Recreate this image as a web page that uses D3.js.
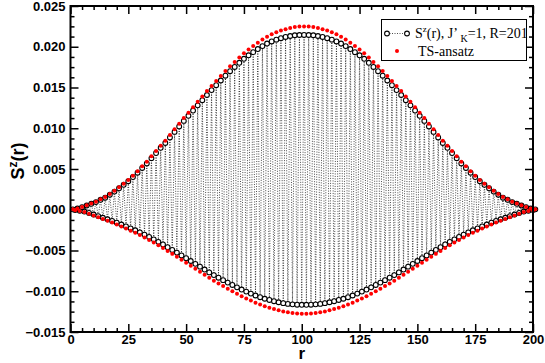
<!DOCTYPE html>
<html>
<head>
<meta charset="utf-8">
<script src="https://cdn.jsdelivr.net/npm/d3@7"></script>
<style>
  body { margin: 0; background: #fff; }
  svg { display: block; }
</style>
</head>
<body>
<div id="chart"></div>
<script>
// S^z(r) on odd sites r = 1, 3, ..., 201 (upper envelope)
const blackOdd = [
  0.00005, 0.00015, 0.00031, 0.00052, 0.00073, 0.00094, 0.00122, 0.00148, 0.00184, 0.00223,
  0.00263, 0.00306, 0.00350, 0.00401, 0.00454, 0.00513, 0.00568, 0.00633, 0.00696, 0.00760,
  0.00819, 0.00887, 0.00955, 0.01022, 0.01090, 0.01153, 0.01217, 0.01281, 0.01345, 0.01408,
  0.01468, 0.01528, 0.01586, 0.01645, 0.01700, 0.01752, 0.01803, 0.01852, 0.01895, 0.01934,
  0.01972, 0.02008, 0.02039, 0.02065, 0.02087, 0.02105, 0.02120, 0.02132, 0.02141, 0.02144,
  0.02145,
  0.02144, 0.02141, 0.02132, 0.02120, 0.02105, 0.02087, 0.02065, 0.02039, 0.02008, 0.01972,
  0.01934, 0.01895, 0.01852, 0.01803, 0.01752, 0.01700, 0.01645, 0.01586, 0.01528, 0.01468,
  0.01408, 0.01345, 0.01281, 0.01217, 0.01153, 0.01090, 0.01022, 0.00955, 0.00887, 0.00819,
  0.00760, 0.00696, 0.00633, 0.00568, 0.00513, 0.00454, 0.00401, 0.00350, 0.00306, 0.00263,
  0.00223, 0.00184, 0.00148, 0.00122, 0.00094, 0.00073, 0.00052, 0.00031, 0.00015, 0.00005
];

// S^z(r) on even sites r = 2, 4, ..., 200 (lower envelope)
const blackEven = [
  -0.00003, -0.00012, -0.00022, -0.00039, -0.00059, -0.00078, -0.00098, -0.00117, -0.00137, -0.00158,
  -0.00181, -0.00205, -0.00228, -0.00252, -0.00277, -0.00305, -0.00334, -0.00363, -0.00394, -0.00426,
  -0.00459, -0.00493, -0.00526, -0.00560, -0.00594, -0.00629, -0.00664, -0.00698, -0.00734, -0.00769,
  -0.00802, -0.00834, -0.00864, -0.00894, -0.00923, -0.00952, -0.00979, -0.01004, -0.01029, -0.01052,
  -0.01073, -0.01092, -0.01107, -0.01122, -0.01135, -0.01146, -0.01155, -0.01161, -0.01165, -0.01166,
  -0.01166, -0.01165, -0.01161, -0.01155, -0.01146, -0.01135, -0.01122, -0.01107, -0.01092, -0.01073,
  -0.01052, -0.01029, -0.01004, -0.00979, -0.00952, -0.00923, -0.00894, -0.00864, -0.00834, -0.00802,
  -0.00769, -0.00734, -0.00698, -0.00664, -0.00629, -0.00594, -0.00560, -0.00526, -0.00493, -0.00459,
  -0.00426, -0.00394, -0.00363, -0.00334, -0.00305, -0.00277, -0.00252, -0.00228, -0.00205, -0.00181,
  -0.00158, -0.00137, -0.00117, -0.00098, -0.00078, -0.00059, -0.00039, -0.00022, -0.00012, -0.00003
];

// TS-ansatz, odd sites
const redOdd = [
  0.00005, 0.00016, 0.00033, 0.00055, 0.00077, 0.00099, 0.00128, 0.00156, 0.00193, 0.00234,
  0.00275, 0.00320, 0.00365, 0.00418, 0.00472, 0.00533, 0.00590, 0.00656, 0.00721, 0.00786,
  0.00847, 0.00917, 0.00987, 0.01056, 0.01126, 0.01191, 0.01257, 0.01324, 0.01390, 0.01456,
  0.01518, 0.01580, 0.01641, 0.01702, 0.01760, 0.01814, 0.01868, 0.01920, 0.01966, 0.02009,
  0.02050, 0.02089, 0.02123, 0.02152, 0.02177, 0.02198, 0.02216, 0.02230, 0.02241, 0.02247,
  0.02250,
  0.02247, 0.02241, 0.02230, 0.02216, 0.02198, 0.02177, 0.02152, 0.02123, 0.02089, 0.02050,
  0.02009, 0.01966, 0.01920, 0.01868, 0.01814, 0.01760, 0.01702, 0.01641, 0.01580, 0.01518,
  0.01456, 0.01390, 0.01324, 0.01257, 0.01191, 0.01126, 0.01056, 0.00987, 0.00917, 0.00847,
  0.00786, 0.00721, 0.00656, 0.00590, 0.00533, 0.00472, 0.00418, 0.00365, 0.00320, 0.00275,
  0.00234, 0.00193, 0.00156, 0.00128, 0.00099, 0.00077, 0.00055, 0.00033, 0.00016, 0.00005
];

// TS-ansatz, even sites
const redEven = [
  -0.00005, -0.00016, -0.00029, -0.00048, -0.00070, -0.00091, -0.00113, -0.00135, -0.00157, -0.00180,
  -0.00205, -0.00231, -0.00257, -0.00283, -0.00310, -0.00340, -0.00371, -0.00403, -0.00436, -0.00470,
  -0.00505, -0.00541, -0.00577, -0.00613, -0.00649, -0.00686, -0.00723, -0.00760, -0.00798, -0.00835,
  -0.00870, -0.00904, -0.00937, -0.00969, -0.01000, -0.01031, -0.01060, -0.01088, -0.01115, -0.01140,
  -0.01163, -0.01184, -0.01202, -0.01219, -0.01234, -0.01247, -0.01258, -0.01267, -0.01273, -0.01276,
  -0.01276, -0.01273, -0.01267, -0.01258, -0.01247, -0.01234, -0.01219, -0.01202, -0.01184, -0.01163,
  -0.01140, -0.01115, -0.01088, -0.01060, -0.01031, -0.01000, -0.00969, -0.00937, -0.00904, -0.00870,
  -0.00835, -0.00798, -0.00760, -0.00723, -0.00686, -0.00649, -0.00613, -0.00577, -0.00541, -0.00505,
  -0.00470, -0.00436, -0.00403, -0.00371, -0.00340, -0.00310, -0.00283, -0.00257, -0.00231, -0.00205,
  -0.00180, -0.00157, -0.00135, -0.00113, -0.00091, -0.00070, -0.00048, -0.00029, -0.00016, -0.00005
];

const xTicks = [0, 25, 50, 75, 100, 125, 150, 175, 200];
const yTicks = [-0.015, -0.010, -0.005, 0.000, 0.005, 0.010, 0.015, 0.020, 0.025];

// merge odd and even sites into one r-ordered series
function toSeries(odd, even) {
  const pts = [];
  odd.forEach((v, i) => pts.push({ r: 2 * i + 1, v: v }));
  even.forEach((v, i) => pts.push({ r: 2 * i + 2, v: v }));
  return pts.sort((a, b) => a.r - b.r);
}

const blackData = toSeries(blackOdd, blackEven);
const redData = toSeries(redOdd, redEven);

const W = 545, H = 363;
const margin = { top: 6, right: 12, bottom: 31, left: 70.5 };
const width = W - margin.left - margin.right;
const height = H - margin.top - margin.bottom;

const svg = d3.select('#chart')
  .append('svg')
  .attr('width', W)
  .attr('height', H);

const g = svg.append('g')
  .attr('transform', `translate(${margin.left},${margin.top})`);

const x = d3.scaleLinear().domain([0, 200]).range([0, width]);
const y = d3.scaleLinear().domain([-0.015, 0.025]).range([height, 0]);

const xMinor = d3.range(0, 201, 5).filter(d => d % 25 !== 0);
const yMinor = d3.range(-0.015, 0.0251, 0.00125).filter(d => Math.abs(Math.round(d / 0.005) * 0.005 - d) > 1e-6);

const tickFont = '"Liberation Sans", Arial, sans-serif';

// axes: major ticks inward, minor ticks shorter, mirrored on top/right
function styleAxis(sel) {
  sel.select('.domain').remove();
  sel.selectAll('line').attr('stroke', '#000').attr('stroke-width', 1.5);
  sel.selectAll('text')
    .attr('font-family', tickFont)
    .attr('font-weight', 'bold')
    .attr('font-size', '13px')
    .attr('fill', '#000');
}

g.append('g')
  .attr('transform', `translate(0,${height})`)
  .call(d3.axisBottom(x).tickValues(xTicks).tickSizeInner(-8).tickSizeOuter(0).tickPadding(3))
  .call(styleAxis);
g.append('g')
  .attr('transform', `translate(0,${height})`)
  .call(d3.axisBottom(x).tickValues(xMinor).tickSizeInner(-4).tickSizeOuter(0).tickFormat(''))
  .call(styleAxis);
g.append('g')
  .call(d3.axisTop(x).tickValues(xTicks).tickSizeInner(-8).tickSizeOuter(0).tickFormat(''))
  .call(styleAxis);
g.append('g')
  .call(d3.axisTop(x).tickValues(xMinor).tickSizeInner(-4).tickSizeOuter(0).tickFormat(''))
  .call(styleAxis);

g.append('g')
  .call(d3.axisLeft(y).tickValues(yTicks).tickSizeInner(-8).tickSizeOuter(0).tickPadding(5).tickFormat(d3.format('.3f')))
  .call(styleAxis);
g.append('g')
  .call(d3.axisLeft(y).tickValues(yMinor).tickSizeInner(-4).tickSizeOuter(0).tickFormat(''))
  .call(styleAxis);
g.append('g')
  .attr('transform', `translate(${width},0)`)
  .call(d3.axisRight(y).tickValues(yTicks).tickSizeInner(-8).tickSizeOuter(0).tickFormat(''))
  .call(styleAxis);
g.append('g')
  .attr('transform', `translate(${width},0)`)
  .call(d3.axisRight(y).tickValues(yMinor).tickSizeInner(-4).tickSizeOuter(0).tickFormat(''))
  .call(styleAxis);

// dotted connecting line of the S^z(r) series
const line = d3.line().x(d => x(d.r)).y(d => y(d.v));
g.append('path')
  .datum(blackData)
  .attr('d', line)
  .attr('fill', 'none')
  .attr('stroke', '#000')
  .attr('stroke-width', 0.7)
  .attr('stroke-dasharray', '1,1.5');

// open circles
g.selectAll('.sz')
  .data(blackData)
  .enter()
  .append('circle')
  .attr('class', 'sz')
  .attr('cx', d => x(d.r))
  .attr('cy', d => y(d.v))
  .attr('r', 2.4)
  .attr('fill', '#fff')
  .attr('stroke', '#000')
  .attr('stroke-width', 1.1);

// TS-ansatz red dots
g.selectAll('.ts')
  .data(redData)
  .enter()
  .append('circle')
  .attr('class', 'ts')
  .attr('cx', d => x(d.r))
  .attr('cy', d => y(d.v))
  .attr('r', 2)
  .attr('fill', '#ff0000');

// frame
g.append('rect')
  .attr('x', 0)
  .attr('y', 0)
  .attr('width', width)
  .attr('height', height)
  .attr('fill', 'none')
  .attr('stroke', '#000')
  .attr('stroke-width', 2);

// axis titles
svg.append('text')
  .attr('x', margin.left + x(100))
  .attr('y', 359)
  .attr('text-anchor', 'middle')
  .attr('font-family', tickFont)
  .attr('font-weight', 'bold')
  .attr('font-size', '17px')
  .text('r');

const yTitle = svg.append('text')
  .attr('transform', `translate(24,161) rotate(-90)`)
  .attr('text-anchor', 'middle')
  .attr('font-family', tickFont)
  .attr('font-weight', 'bold')
  .attr('font-size', '18px');
yTitle.append('tspan').text('S');
yTitle.append('tspan').attr('dy', -7).attr('font-size', '12px').text('z');
yTitle.append('tspan').attr('dy', 7).text('(r)');

// legend
const legendFont = '"Liberation Serif", "Times New Roman", serif';
const lg = svg.append('g');
lg.append('rect')
  .attr('x', 381.5)
  .attr('y', 19.5)
  .attr('width', 145)
  .attr('height', 41)
  .attr('fill', '#fff')
  .attr('stroke', '#000')
  .attr('stroke-width', 1);

lg.append('line')
  .attr('x1', 387)
  .attr('x2', 407)
  .attr('y1', 33.5)
  .attr('y2', 33.5)
  .attr('stroke', '#000')
  .attr('stroke-width', 0.7)
  .attr('stroke-dasharray', '1,1.5');
[387, 407].forEach(cx => {
  lg.append('circle')
    .attr('cx', cx)
    .attr('cy', 33.5)
    .attr('r', 2.4)
    .attr('fill', '#fff')
    .attr('stroke', '#000')
    .attr('stroke-width', 1.1);
});
lg.append('circle')
  .attr('cx', 397)
  .attr('cy', 51)
  .attr('r', 2)
  .attr('fill', '#ff0000');

const t1 = lg.append('text')
  .attr('x', 415)
  .attr('y', 38)
  .attr('font-family', legendFont)
  .attr('font-size', '14px')
  .attr('fill', '#000');
t1.append('tspan').text('S');
t1.append('tspan').attr('dy', -6).attr('font-size', '9px').text('z');
t1.append('tspan').attr('dy', 6).text('(r), J\u2019');
t1.append('tspan').attr('dy', 4).attr('font-size', '10px').text(' K');
t1.append('tspan').attr('dy', -4).text('=1, R=201');

lg.append('text')
  .attr('x', 418)
  .attr('y', 56)
  .attr('font-family', legendFont)
  .attr('font-size', '14px')
  .attr('fill', '#000')
  .text('TS-ansatz');
</script>
</body>
</html>
